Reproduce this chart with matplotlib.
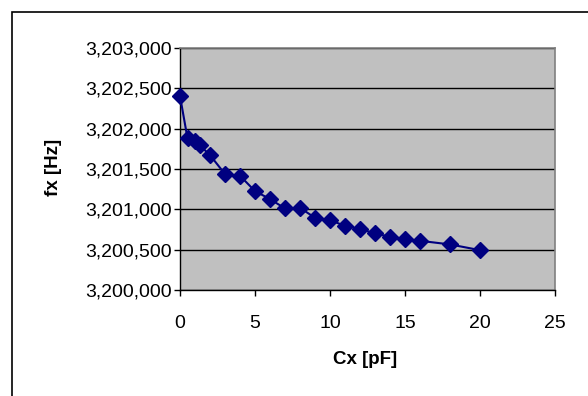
import matplotlib.pyplot as plt
from matplotlib.patches import Rectangle
from matplotlib.ticker import FuncFormatter

# datos
cx = [0, 0.5, 1.0, 1.3, 2, 3, 4, 5, 6, 7, 8, 9, 10, 11, 12, 13, 14, 15, 16, 18, 20]
fx = [3202405, 3201880, 3201846, 3201797, 3201672, 3201437, 3201416, 3201226,
      3201127, 3201011, 3201019, 3200895, 3200866, 3200795, 3200758, 3200701,
      3200660, 3200634, 3200610, 3200565, 3200494]

plt.rcParams['font.family'] = ['Liberation Sans', 'DejaVu Sans']

W, H = 588, 396
fig = plt.figure(figsize=(W / 100, H / 100), dpi=100)

# marco exterior
fig.patches.append(Rectangle((12 / W, -0.1), 1.2, 1 - 12 / H + 0.1,
                             transform=fig.transFigure, fill=False,
                             edgecolor='black', linewidth=1.2))

ax = fig.add_axes([180 / W, 1 - 290 / H, 375 / W, 242 / H])
ax.set_facecolor('#c0c0c0')

ax.plot(cx, fx, color='#000080', marker='D', markersize=8, linewidth=1.5,
        clip_on=False, zorder=5)

ax.set_xlim(0, 25)
ax.set_ylim(3200000, 3203000)
ax.set_xticks([0, 5, 10, 15, 20, 25])
ax.set_yticks(range(3200000, 3203001, 500))
ax.yaxis.set_major_formatter(FuncFormatter(lambda v, p: f"{int(v):,}"))
ax.grid(axis='y', color='black', linewidth=1)
ax.set_axisbelow(True)

ax.tick_params(labelsize=14, length=4, width=1, direction='out', pad=2)
ax.tick_params(axis='x', pad=14)

for s in ['top', 'right']:
    ax.spines[s].set_color('#808080')
    ax.spines[s].set_linewidth(1.2)
for s in ['left', 'bottom']:
    ax.spines[s].set_color('black')
    ax.spines[s].set_linewidth(1)

fig.text(365 / W, 1 - 360 / H, 'Cx [pF]', fontsize=13.5, fontweight='bold',
         ha='center', va='center')
fig.text(53 / W, 1 - 167 / H, 'fx [Hz]', fontsize=13.5, fontweight='bold',
         ha='center', va='center', rotation=90)

fig.savefig('out.png', dpi=100)
